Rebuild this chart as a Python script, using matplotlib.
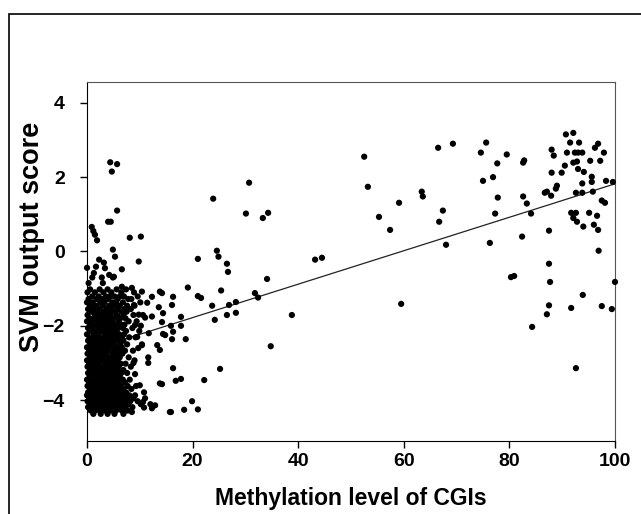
import numpy as np
import matplotlib.pyplot as plt
from matplotlib.patches import Rectangle

# dense cluster of low-methylation CGIs: one row of x values per y level
cluster_y = [-1.02, -1.1, -1.21, -1.28, -1.37, -1.46, -1.55, -1.62, -1.71, -1.8,
             -1.88, -1.97, -2.06, -2.14, -2.23, -2.31, -2.4, -2.5, -2.58, -2.67,
             -2.75, -2.85, -2.93, -3.02, -3.1, -3.19, -3.27, -3.36, -3.45, -3.53,
             -3.62, -3.7, -3.79, -3.87, -3.95, -4.03, -4.11, -4.19, -4.28, -4.37]
cluster_x = [
    [0.6, 2.4, 3.9, 5.6, 7.4],
    [0.1, 1.5, 3.1, 4.6, 6.5, 8.9],
    [1.0, 2.2, 3.6, 4.4, 5.2, 6.2, 7.0, 9.6],
    [0.3, 1.9, 2.8, 4.0, 5.8, 7.8, 8.4],
    [0.0, 1.1, 2.5, 3.3, 4.8, 5.5, 6.8, 10.1],
    [0.7, 1.8, 3.0, 4.2, 5.1, 6.2, 7.6, 9.0],
    [0.2, 1.3, 2.3, 3.7, 4.6, 5.9, 7.1, 8.3],
    [0.9, 2.0, 3.2, 4.1, 5.3, 6.6, 7.5],
    [0.1, 1.5, 2.6, 3.5, 4.5, 5.7, 6.9, 8.8, 10.6],
    [0.5, 1.2, 2.2, 3.3, 4.0, 5.1, 6.3, 7.3],
    [0.0, 0.9, 2.0, 2.9, 3.8, 4.8, 6.0, 7.9, 9.4],
    [0.6, 1.7, 2.5, 3.6, 4.4, 5.4, 6.5, 7.1],
    [0.2, 1.1, 2.3, 3.1, 4.1, 5.0, 5.9, 6.8, 8.6],
    [0.8, 1.9, 2.8, 3.8, 4.7, 5.6, 7.4, 9.9],
    [0.0, 1.3, 2.1, 3.4, 4.3, 5.2, 6.1, 7.0],
    [0.5, 1.6, 2.6, 3.5, 4.5, 5.5, 6.6, 8.0, 9.2],
    [0.2, 1.0, 2.0, 3.0, 3.9, 4.9, 5.8, 6.9],
    [0.7, 1.5, 2.4, 3.3, 4.2, 5.1, 6.3, 7.6, 10.4],
    [0.0, 1.1, 2.0, 2.9, 3.7, 4.6, 5.6, 6.6],
    [0.4, 1.4, 2.3, 3.3, 4.1, 5.3, 6.1, 7.2, 8.7],
    [0.1, 0.9, 1.8, 2.7, 3.6, 4.8, 5.7, 6.7],
    [0.6, 1.5, 2.4, 3.2, 4.3, 5.2, 6.2, 7.9],
    [0.0, 1.0, 2.0, 2.9, 3.9, 4.7, 5.8, 9.0],
    [0.4, 1.3, 2.2, 3.4, 4.4, 5.4, 6.4, 7.3],
    [0.1, 0.8, 1.7, 2.6, 3.5, 4.2, 5.1, 6.0, 8.3],
    [0.6, 1.4, 2.3, 3.1, 4.0, 4.9, 5.8, 6.9],
    [0.2, 1.1, 2.0, 2.8, 3.8, 4.6, 5.5, 6.5, 7.6],
    [0.5, 1.6, 2.5, 3.4, 4.3, 5.2, 6.2],
    [0.0, 0.9, 1.9, 2.7, 3.6, 4.6, 5.7, 6.8, 8.1],
    [0.4, 1.3, 2.2, 3.1, 4.0, 5.0, 6.0, 7.2],
    [0.1, 0.9, 1.8, 2.6, 3.5, 4.4, 5.3, 6.4, 7.7, 9.3],
    [0.6, 1.5, 2.4, 3.2, 4.1, 4.9, 5.9, 6.9, 8.4],
    [0.2, 1.1, 2.0, 2.8, 3.7, 4.6, 5.5, 6.3, 7.4, 10.8],
    [0.0, 0.7, 1.5, 2.4, 3.3, 4.2, 5.1, 6.0, 7.0, 8.0, 9.1],
    [0.4, 1.2, 2.1, 2.9, 3.8, 4.7, 5.6, 6.5, 7.6, 8.8, 11.0],
    [0.1, 0.9, 1.7, 2.6, 3.5, 4.3, 5.2, 6.1, 7.1, 8.2, 9.6],
    [0.5, 1.4, 2.3, 3.1, 4.0, 4.9, 5.8, 6.8, 7.8, 10.2, 12.0],
    [0.2, 1.0, 1.9, 2.7, 3.6, 4.5, 5.4, 6.4, 7.3, 8.6],
    [0.7, 1.6, 2.5, 3.4, 4.4, 5.5, 6.6, 7.7],
    [1.2, 2.6, 3.9, 5.2, 6.9],
]

# scattered points outside the dense cluster
low_x = [4.4, 5.7, 4.7, 5.7, 4.0, 4.5, 0.9, 1.2, 1.5, 1.9, 8.1, 10.2, 4.9, 5.3,
         9.8, 0.0, 2.3, 3.2, 3.4, 1.3, 1.7, 4.2, 4.9, 6.6, 1.0, 2.8, 5.1, 6.6,
         8.5, 0.3, 3.0,
         10.4, 12.3, 13.8, 11.4, 13.6, 11.0, 12.3, 14.2, 11.7, 14.8, 13.3, 10.4,
         9.1, 9.8, 8.9, 9.7, 11.6, 11.6, 13.8, 12.9, 12.3, 8.5, 10.6, 10.8, 9.1,
         10.0, 9.5, 8.8, 10.2]
low_y = [2.4, 2.35, 2.15, 1.1, 0.8, 0.8, 0.66, 0.55, 0.45, 0.3, 0.37, 0.4, 0.05,
         -0.14, -0.27, -0.44, -0.22, -0.3, -0.45, -0.58, -0.41, -0.63, -0.7,
         -0.48, -0.7, -0.7, -0.68, -0.95, -0.98, -0.85, -0.85,
         -1.08, -1.22, -1.08, -1.38, -1.5, -1.78, -1.75, -1.9, -2.2, -2.25, -2.52,
         -2.52, -1.98, -1.7, -1.44, -2.6, -2.85, -3.0, -3.55, -4.14, -4.22, -4.32,
         -4.05, -4.2, -3.3, -3.6, -2.3, -3.0, -2.0]

mid_x = [14.2, 16.3, 21.0, 21.6, 16.1, 23.7, 26.9, 28.2, 31.8, 32.4, 14.4, 17.8,
         24.2, 26.5, 28.2, 38.8, 15.9, 17.8, 14.4, 16.3, 16.1, 18.7, 34.8, 13.8,
         16.3, 25.2, 17.8, 16.8, 22.2, 14.2, 19.9, 18.4, 15.9, 21.0, 19.1, 25.4,
         30.7, 23.9, 30.1, 34.3, 33.3, 24.6, 24.9, 21.0, 26.5, 26.7, 34.1, 15.7,
         52.5, 53.2, 55.3, 57.4, 59.1, 63.4, 63.6, 66.5, 69.3, 67.4, 66.7, 68.0,
         43.2, 44.5, 59.5]
mid_y = [-1.12, -1.22, -1.2, -1.25, -1.44, -1.46, -1.44, -1.36, -1.12, -1.24,
         -1.66, -1.76, -1.84, -1.71, -1.65, -1.71, -2.0, -2.0, -2.22, -2.16,
         -2.36, -2.36, -2.55, -2.65, -3.14, -3.16, -3.43, -3.48, -3.46, -3.57,
         -4.03, -4.26, -4.32, -4.25, -0.97, -1.05,
         1.85, 1.42, 1.02, 1.04, 0.9, 0.02, -0.14, -0.2, -0.33, -0.55, -0.74, -4.32,
         2.55, 1.74, 0.93, 0.58, 1.31, 1.61, 1.48, 2.79, 2.9, 1.1, 0.8, 0.18,
         -0.22, -0.17, -1.41]

high_x = [75.6, 74.6, 79.5, 77.7, 82.8, 82.6, 75.0, 76.9, 77.8, 82.6, 83.3, 77.3,
          84.1, 82.4, 87.5, 86.7, 87.1, 87.9, 88.8, 89.0, 88.0, 89.9, 90.5, 88.0,
          88.4, 90.9, 90.7, 92.1, 91.5, 93.2, 92.4, 93.0, 93.8, 92.1, 92.8, 93.0,
          94.1, 95.3, 96.2, 96.8, 97.9, 97.2, 95.6, 95.6, 98.3, 99.6, 93.8, 92.6,
          93.8, 95.8, 97.5, 98.1, 91.7, 92.6, 92.1, 92.8, 94.0, 95.1, 96.6, 96.0,
          96.8, 76.3, 87.5, 87.7, 80.3, 80.9, 87.5, 87.1, 84.3, 91.7, 93.9, 97.5,
          99.4, 100.0, 92.6, 96.9]
high_y = [2.93, 2.66, 2.61, 2.37, 2.45, 2.39, 1.9, 2.0, 1.45, 1.48, 1.29, 1.02,
          1.02, 0.4, 0.56, 1.58, 1.61, 1.5, 1.69, 1.77, 2.12, 2.12, 2.31, 2.74,
          2.58, 2.66, 3.15, 3.19, 2.93, 2.93, 2.66, 2.66, 2.66, 2.39, 2.42, 2.22,
          2.14, 2.44, 2.79, 2.9, 2.66, 2.44, 2.01, 1.87, 1.9, 1.87, 1.83, 1.58,
          1.58, 1.61, 1.37, 1.31, 1.04, 1.04, 0.9, 0.8, 0.67, 1.04, 0.96, 0.72,
          0.58, 0.23, -0.33, -0.82, -0.69, -0.66, -1.45, -1.69, -2.03, -1.52,
          -1.17, -1.47, -1.55, -0.82, -3.14, 0.02]

# regression line
trend_intercept = -2.68
trend_slope = 0.045

xs = [x for row in cluster_x for x in row] + low_x + mid_x + high_x
ys = [y for y, row in zip(cluster_y, cluster_x) for _ in row] + low_y + mid_y + high_y

plt.rcParams['font.family'] = ['Liberation Sans', 'DejaVu Sans']

fig = plt.figure(figsize=(6.41, 5.14), dpi=100)
ax = fig.add_axes([87/641, 1 - 441/514, 528/641, 359/514])

ax.scatter(xs, ys, s=20, color='black', edgecolors='none', clip_on=False, zorder=3)

line_x = np.array([0, 100])
ax.plot(line_x, trend_intercept + trend_slope * line_x, color='#222222', lw=0.9, zorder=2)

ax.set_xlim(0, 100)
ax.set_ylim(-5.1, 4.56)
ax.set_xticks([0, 20, 40, 60, 80, 100])
ax.set_yticks([-4, -2, 0, 2, 4])
ax.tick_params(direction='out', length=5, width=1, labelsize=14)
ax.tick_params(axis='x', pad=4)
ax.tick_params(axis='y', pad=11)
for lab in ax.get_xticklabels() + ax.get_yticklabels():
    lab.set_fontweight('bold')

ax.set_xlabel('Methylation level of CGIs', fontsize=16.5, fontweight='bold', labelpad=12)
ax.set_ylabel('SVM output score', fontsize=19.5, fontweight='bold')
ax.yaxis.set_label_coords(-0.080, 0.568)

for side in ['left', 'bottom']:
    ax.spines[side].set_color('black')
for side in ['top', 'right']:
    ax.spines[side].set_color('#555555')

# outer frame around the figure (right and bottom run off the canvas)
fig.patches.append(Rectangle((9/641, -0.1), 1.2, 1.1 - 14/514, transform=fig.transFigure,
                             fill=False, edgecolor='black', lw=1.2))

plt.savefig('out.png', dpi=100)
